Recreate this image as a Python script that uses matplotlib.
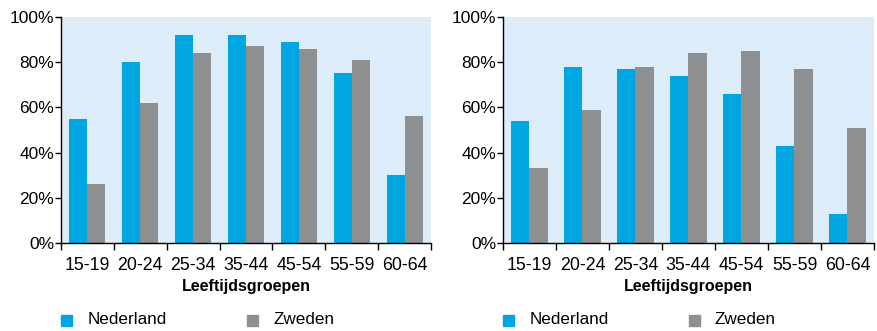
import numpy as np
from matplotlib import pyplot as plt
from matplotlib.patches import Rectangle
from matplotlib.ticker import FixedLocator, PercentFormatter

plt.rcParams['font.family'] = ['Liberation Sans', 'DejaVu Sans']

groups = ['15-19', '20-24', '25-34', '35-44', '45-54', '55-59', '60-64']
series = ['Nederland', 'Zweden']

# participation per age group, left and right panel
nl_left = [55, 80, 92, 92, 89, 75, 30]
se_left = [26, 62, 84, 87, 86, 81, 56]
nl_right = [54, 78, 77, 74, 66, 43, 13]
se_right = [33, 59, 78, 84, 85, 77, 51]

blue = '#00a6e2'
grey = '#8e8f91'
bg = '#ddecf9'

W, H = 878, 331
fig = plt.figure(figsize=(W / 100, H / 100), dpi=100)


def panel(x0, x1, nl, se):
    ax = fig.add_axes([x0 / W, 1 - 243 / H, (x1 - x0) / W, (243 - 17) / H])
    ax.set_facecolor(bg)
    x = np.arange(len(groups))
    bw = 0.34
    ax.bar(x - bw / 2, nl, bw, color=blue, zorder=2)
    ax.bar(x + bw / 2, se, bw, color=grey, zorder=2)

    ax.set_xlim(-0.5, len(groups) - 0.5)
    ax.set_ylim(0, 100)
    ax.set_yticks(range(0, 101, 20))
    ax.yaxis.set_major_formatter(PercentFormatter(decimals=0))
    ax.set_xticks(x)
    ax.set_xticklabels(groups)
    ax.xaxis.set_minor_locator(FixedLocator(np.arange(-0.5, len(groups), 1)))
    ax.tick_params(axis='x', which='major', length=0, pad=10, labelsize=12.8)
    ax.tick_params(axis='x', which='minor', length=5, width=1, direction='out')
    ax.tick_params(axis='y', length=4, width=1, pad=1, labelsize=12.5)

    for s in ['top', 'right']:
        ax.spines[s].set_visible(False)
    for s in ['left', 'bottom']:
        ax.spines[s].set_linewidth(1)
        ax.spines[s].set_zorder(3)

    ax.set_xlabel('Leeftijdsgroepen', fontweight='bold', fontsize=11.5, labelpad=4)

    # legend row under the panel
    y = 1 - 326 / H
    fig.add_artist(Rectangle((x0 / W, y), 11 / W, 11 / H, color=blue,
                             transform=fig.transFigure))
    fig.text((x0 + 27) / W, 1 - 320 / H, series[0], fontsize=12.3, va='center')
    fig.add_artist(Rectangle(((x0 + 186) / W, y), 11 / W, 11 / H, color=grey,
                             transform=fig.transFigure))
    fig.text((x0 + 212) / W, 1 - 320 / H, series[1], fontsize=12.3, va='center')
    return ax


panel(61, 431, nl_left, se_left)
panel(503, 874, nl_right, se_right)

plt.savefig('out.png', dpi=100)
